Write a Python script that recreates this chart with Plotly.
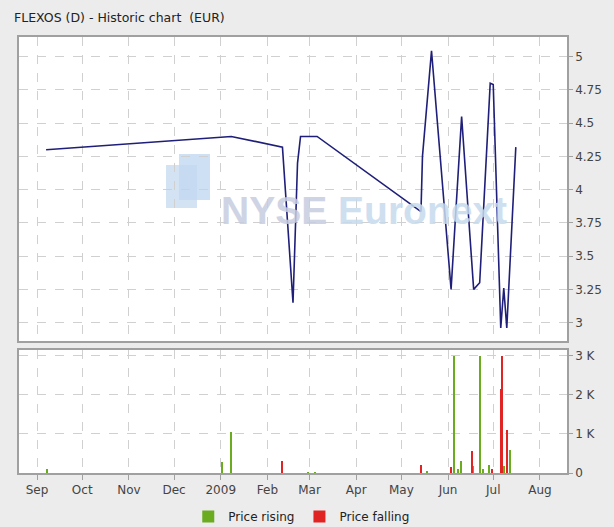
import plotly.graph_objects as go

# ---- data ----
price_dates = ["2008-09-07", "2009-01-08", "2009-02-11", "2009-02-18", "2009-02-21",
               "2009-02-23", "2009-03-06", "2009-05-14", "2009-05-15", "2009-05-21",
               "2009-06-03", "2009-06-10", "2009-06-18", "2009-06-22", "2009-06-29",
               "2009-07-01", "2009-07-06", "2009-07-08", "2009-07-10", "2009-07-16"]
price_values = [4.30, 4.40, 4.32, 3.15, 4.20,
                4.40, 4.40, 3.835, 4.25, 5.045,
                3.25, 4.55, 3.25, 3.30, 4.80,
                4.79, 2.96, 3.26, 2.96, 4.32]

rise_dates = ["2008-09-08", "2009-01-02", "2009-01-08", "2009-02-28", "2009-03-05",
              "2009-05-18", "2009-06-05", "2009-06-08", "2009-06-10", "2009-06-18",
              "2009-06-22", "2009-06-24", "2009-06-28", "2009-07-08", "2009-07-12"]
rise_volumes = [90, 290, 1050, 20, 25,
                30, 3000, 100, 300, 170,
                3000, 100, 200, 180, 600]

fall_dates = ["2009-02-11", "2009-05-14", "2009-06-03", "2009-06-17", "2009-06-30",
              "2009-07-06", "2009-07-07", "2009-07-10"]
fall_volumes = [320, 200, 150, 570, 100, 2150, 3000, 1100]

month_ticks = ["2008-09-01", "2008-10-01", "2008-11-01", "2008-12-01", "2009-01-01",
               "2009-02-01", "2009-03-01", "2009-04-01", "2009-05-01", "2009-06-01",
               "2009-07-01", "2009-08-01"]
month_labels = ["Sep", "Oct", "Nov", "Dec", "2009", "Feb", "Mar", "Apr", "May",
                "Jun", "Jul", "Aug"]

price_ticks = [3, 3.25, 3.5, 3.75, 4, 4.25, 4.5, 4.75, 5]
price_tick_labels = ["3", "3.25", "3.5", "3.75", "4", "4.25", "4.5", "4.75", "5"]
vol_ticks = [0, 1000, 2000, 3000]
vol_tick_labels = ["0", "1 K", "2 K", "3 K"]

title_text = "FLEXOS (D) - Historic chart  (EUR)"

# ---- figure ----
FONT = "DejaVu Sans"
GRID = "#d0d0d0"
BORDER = "#a0a0a0"
TICKC = "#444444"
BG = "#ececec"

fig = go.Figure()

fig.add_trace(go.Scatter(
    x=price_dates, y=price_values, mode="lines",
    line=dict(color="#1f1f7a", width=1.6),
    xaxis="x", yaxis="y", showlegend=False, hoverinfo="x+y"))

DAY = 86400000
fig.add_trace(go.Bar(
    x=rise_dates, y=rise_volumes, name="Price rising",
    marker=dict(color="#6aab1f", line=dict(width=0)), width=0.9 * DAY,
    xaxis="x2", yaxis="y2"))
fig.add_trace(go.Bar(
    x=fall_dates, y=fall_volumes, name="Price falling",
    marker=dict(color="#e02424", line=dict(width=0)), width=0.9 * DAY,
    xaxis="x2", yaxis="y2"))

xr = ["2008-08-20", "2009-08-19"]

common_x = dict(
    type="date", range=xr, tickvals=month_ticks, ticktext=month_labels,
    showgrid=True, gridcolor=GRID, griddash="dash", gridwidth=1,
    showline=True, linecolor=BORDER, linewidth=1.5, mirror=True,
    zeroline=False, tickfont=dict(family=FONT, size=12, color=TICKC),
)

fig.update_layout(
    width=614, height=527,
    paper_bgcolor=BG, plot_bgcolor="#ffffff",
    margin=dict(l=19, r=47, t=37, b=54, autoexpand=False),
    font=dict(family=FONT, size=12, color=TICKC),
    bargap=0, barmode="overlay",
    xaxis=dict(common_x, domain=[0, 1], anchor="y", showticklabels=False,
               ticks="", matches="x2"),
    xaxis2=dict(common_x, domain=[0, 1], anchor="y2", ticks="outside",
                ticklen=5, tickcolor=BORDER),
    yaxis=dict(domain=[0.3028, 1.0], range=[2.862, 5.148], side="right",
               tickvals=price_ticks, ticktext=price_tick_labels,
               showgrid=True, gridcolor=GRID, griddash="dash",
               showline=True, linecolor=BORDER, linewidth=1.5, mirror=True,
               ticks="outside", ticklen=4, tickcolor=BORDER, zeroline=False,
               tickfont=dict(family=FONT, size=12, color=TICKC), anchor="x"),
    yaxis2=dict(domain=[0.0, 0.2821], range=[0, 3150], side="right",
                tickvals=vol_ticks, ticktext=vol_tick_labels,
                showgrid=True, gridcolor=GRID, griddash="dash",
                showline=True, linecolor=BORDER, linewidth=1.5, mirror=True,
                ticks="outside", ticklen=4, tickcolor=BORDER, zeroline=False,
                tickfont=dict(family=FONT, size=12, color=TICKC), anchor="x2"),
    legend=dict(orientation="h", x=0.516, xanchor="center",
                yref="container", y=25 / 527, yanchor="top",
                font=dict(family=FONT, size=12, color="#222222"),
                bgcolor="rgba(0,0,0,0)", itemwidth=30, traceorder="normal"),
    showlegend=True,
)

# title
fig.add_annotation(text=title_text, xref="paper", yref="paper",
                   x=-0.013, y=1.0 + 20 / 436, xanchor="left", yanchor="middle",
                   showarrow=False, font=dict(family=FONT, size=12.5, color="#222222"))

# watermark
fig.add_annotation(
    text="<b><span style='color:#c7cde0'>NYSE</span> <span style='color:#c6daee'>Euronext</span></b>",
    xref="paper", yref="paper", x=(364 - 19) / 548, y=(473 - 210) / 436,
    xanchor="center", yanchor="middle", showarrow=False,
    font=dict(family="Liberation Sans", size=39), opacity=0.85)

def px_x(p):
    return (p - 19) / 548

def px_y(p):
    return (473 - p) / 436

fig.add_shape(type="rect", xref="paper", yref="paper",
              x0=px_x(166), x1=px_x(197), y0=px_y(208), y1=px_y(165),
              fillcolor="#cfe0f2", line=dict(width=0), layer="below", opacity=0.9)
fig.add_shape(type="rect", xref="paper", yref="paper",
              x0=px_x(179), x1=px_x(210), y0=px_y(200), y1=px_y(154),
              fillcolor="#c2d8f0", line=dict(width=0), layer="below", opacity=0.8)

fig.write_html(
    "out.html",
    config={"displayModeBar": False},
    post_script="document.body.style.margin='0';document.body.style.background='%s';" % BG,
)
